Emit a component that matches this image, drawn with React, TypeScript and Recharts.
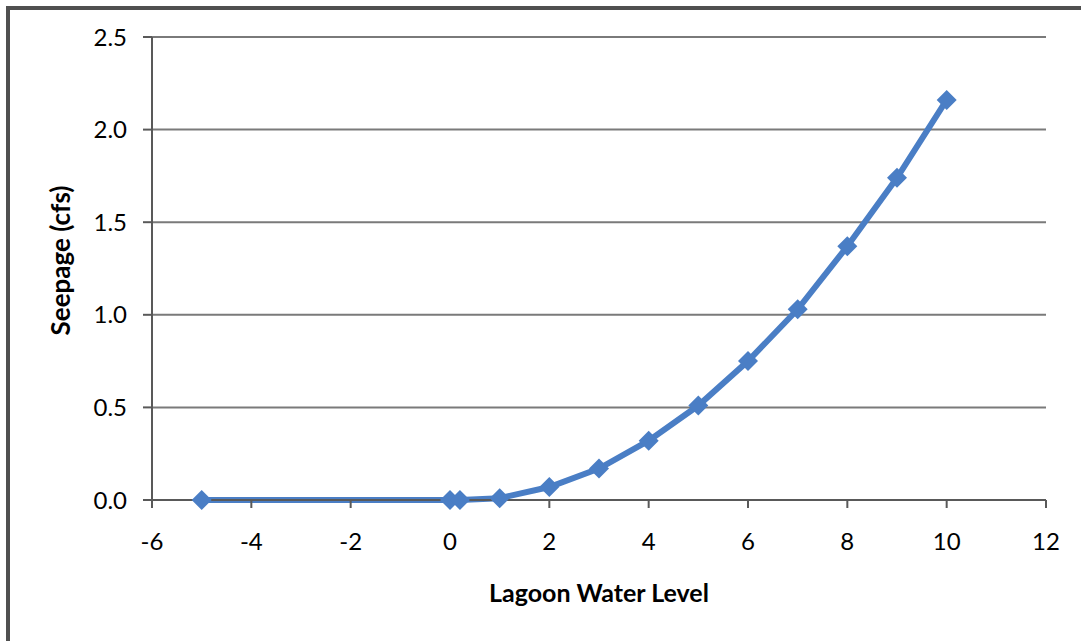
import React from 'react';
import { LineChart, Line, XAxis, YAxis, CartesianGrid, Label } from 'recharts';

// Lagoon water level vs seepage
const levels = [-5, 0, 0.2, 1, 2, 3, 4, 5, 6, 7, 8, 9, 10];
const seepage = [0, 0, 0, 0.01, 0.07, 0.17, 0.32, 0.51, 0.75, 1.03, 1.37, 1.74, 2.16];
const xTicks = [-6, -4, -2, 0, 2, 4, 6, 8, 10, 12];
const yTicks = [0, 0.5, 1, 1.5, 2, 2.5];

const data = levels.map((level, i) => ({ level, seepage: seepage[i] }));

const BLUE = '#4A7EC5';
const FONT = 'Lato, "Open Sans", sans-serif';

const Diamond = (props: any) => {
  const { cx, cy } = props;
  if (cx == null || cy == null) return null;
  const r = 10;
  return <path d={`M${cx},${cy - r}L${cx + r},${cy}L${cx},${cy + r}L${cx - r},${cy}Z`} fill={BLUE} />;
};

export default function App() {
  return (
    <div style={{ position: 'absolute', left: 0, top: 0, width: 1081, height: 641, overflow: 'hidden', background: '#fff' }}>
      {/* chart frame, cut off on right and bottom */}
      <div style={{ position: 'absolute', left: 6, top: 6, width: 1200, height: 800, border: '4px solid #505050', boxSizing: 'border-box' }} />
      <div style={{ position: 'absolute', left: 0, top: 0 }}>
        <LineChart width={1081} height={641} data={data} margin={{ top: 37, right: 35, left: 92, bottom: 0 }}>
          <CartesianGrid horizontal vertical={false} stroke="#7a7a7a" strokeWidth={2} />
          <XAxis
            dataKey="level"
            type="number"
            domain={[-6, 12]}
            ticks={xTicks}
            height={141}
            tickSize={8}
            tickMargin={25}
            stroke="#595959"
            strokeWidth={2}
            tick={{ fill: '#000', fontSize: 24, fontFamily: FONT }}
            interval={0}
          >
            <Label
              content={(p: any) => {
                const vb = p.viewBox;
                return (
                  <text x={vb.x + vb.width / 2} y={vb.y + 102} textAnchor="middle" fontSize={25} fontWeight="bold" fontFamily={FONT} fill="#000">
                    Lagoon Water Level
                  </text>
                );
              }}
            />
          </XAxis>
          <YAxis
            type="number"
            domain={[0, 2.5]}
            ticks={yTicks}
            width={60}
            tickSize={9}
            tickMargin={16}
            stroke="#595959"
            strokeWidth={2}
            tickFormatter={(v: number) => v.toFixed(1)}
            tick={{ fill: '#000', fontSize: 24, fontFamily: FONT }}
            interval={0}
          >
            <Label
              content={(p: any) => {
                const vb = p.viewBox;
                const cy = vb.y + vb.height / 2 - 8;
                return (
                  <text x={60} y={cy} transform={`rotate(-90 60 ${cy})`} textAnchor="middle" dominantBaseline="central" fontSize={26} fontWeight="bold" fontFamily={FONT} fill="#000">
                    Seepage (cfs)
                  </text>
                );
              }}
            />
          </YAxis>
          <Line
            type="linear"
            dataKey="seepage"
            stroke={BLUE}
            strokeWidth={6}
            dot={<Diamond />}
            activeDot={false}
            isAnimationActive={false}
          />
        </LineChart>
      </div>
    </div>
  );
}
